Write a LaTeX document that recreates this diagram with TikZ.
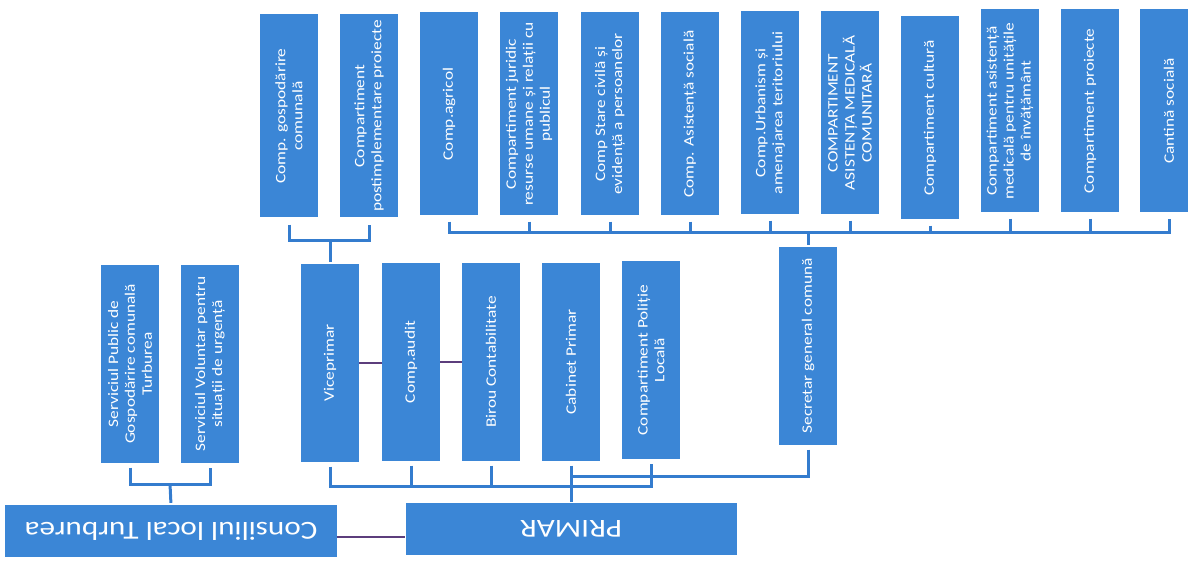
\documentclass[tikz,border=0pt]{standalone}
\usepackage{fontspec}
\newfontfamily\unitfont[FakeStretch=1.2]{Carlito}
\definecolor{chartblue}{RGB}{59,134,214}
\definecolor{lineblue}{RGB}{52,124,206}
\definecolor{tiepurple}{RGB}{92,62,124}
\begin{document}
\begin{tikzpicture}
  [x=1bp,y=-1bp,
   unit/.style={fill=chartblue,text=white,inner sep=1bp,align=center,
     font=\unitfont\fontsize{14.5}{17}\selectfont},
   top/.style={unit,rotate=90,minimum width=203bp,minimum height=58bp},
   mid/.style={unit,rotate=90,minimum width=197bp,minimum height=58bp},
   head/.style={unit,rotate=180,minimum width=331bp,minimum height=52bp,
     font=\unitfont\fontsize{26}{30}\selectfont},
   link/.style={draw=lineblue,line width=3bp},
   tie/.style={draw=tiepurple,line width=2bp}]
  \useasboundingbox (0,0) rectangle (1188,562);

  % top row
  \node[top] (c1)  at (289,116)  {Comp. gospodărire\\comunală};
  \node[top] (c2)  at (369,116)  {Compartiment\\postimplementare proiecte};
  \node[top] (c3)  at (449,114)  {Comp.agricol};
  \node[top] (c4)  at (529,114)  {Compartiment juridic\\resurse umane și relații cu\\publicul};
  \node[top] (c5)  at (610,114)  {Comp Stare civilă și\\evidență a persoanelor};
  \node[top] (c6)  at (690,114)  {Comp. Asistență socială};
  \node[top] (c7)  at (770,113)  {Comp.Urbanism și\\amenajarea teritoriului};
  \node[top] (c8)  at (850,113)  {COMPARTIMENT\\ASISTENȚA MEDICALĂ\\COMUNITARĂ};
  \node[top] (c9)  at (930,118)  {Compartiment cultură};
  \node[top] (c10) at (1010,111) {Compartiment asistență\\medicală pentru unitățile\\de învățământ};
  \node[top] (c11) at (1090,111) {Compartiment proiecte};
  \node[top] (c12) at (1169,111) {Cantină socială};

  % middle row
  \node[mid] (s1)    at (130,364) {Serviciul Public de\\Gospodărire comunală\\Turburea};
  \node[mid] (s2)    at (210,364) {Serviciul Voluntar pentru\\situații de urgență};
  \node[mid] (vice)  at (330,363) {Viceprimar};
  \node[mid] (audit) at (411,362) {Comp.audit};
  \node[mid] (birou) at (491,362) {Birou Contabilitate};
  \node[mid] (cab)   at (571,362) {Cabinet Primar};
  \node[mid] (pol)   at (651,360) {Compartiment Poliție\\Locală};
  \node[mid] (secr)  at (808,346) {Secretar general comună};

  % bottom row
  \node[head] (cons)   at (171,531) {Consiliul local Turburea};
  \node[head] (primar) at (571,529) {PRIMAR};

  % upper connectors
  \coordinate (tb) at (330,241);
  \draw[link,shorten <=7bp,shorten >=7bp] (c1.west) |- (tb) -| (c2.west);
  \draw[link,shorten >=2bp] (tb) -- (vice.east);

  \coordinate (bus) at (808,233);
  \draw[link,shorten <=6bp,shorten >=6bp] (c3.west) |- (bus) -| (c12.west);
  \foreach \i in {4,...,11}
    \draw[link,shorten <=6bp] (c\i.west) -- (c\i.west |- bus);
  \draw[link,shorten >=2bp] (bus) -- (secr.east);

  % lower connectors
  \coordinate (lb) at (170,484);
  \draw[link,shorten <=5bp,shorten >=5bp] (s1.west) |- (lb) -| (s2.west);
  \draw[link,shorten >=2bp] (lb) -- (cons.south);

  \coordinate (mb) at (571,486);
  \draw[link,shorten <=5bp,shorten >=5bp] (vice.west) |- (mb) -| (pol.west);
  \foreach \u in {audit,birou}
    \draw[link,shorten <=5bp] (\u.west) -- (\u.west |- mb);
  \draw[link,shorten <=5bp,shorten >=1bp] (cab.west) -- (primar.south);
  \coordinate (sb) at (571,476);
  \draw[link,shorten <=5bp] (secr.west) |- (sb);

  % side ties
  \draw[tie] (vice.south) -- (vice.south -| audit.north);
  \draw[tie] (audit.south) -- (audit.south -| birou.north);
  \draw[tie] ([yshift=-6bp]cons.west) -- ([yshift=-6bp]cons.west -| primar.east);
\end{tikzpicture}
\end{document}
